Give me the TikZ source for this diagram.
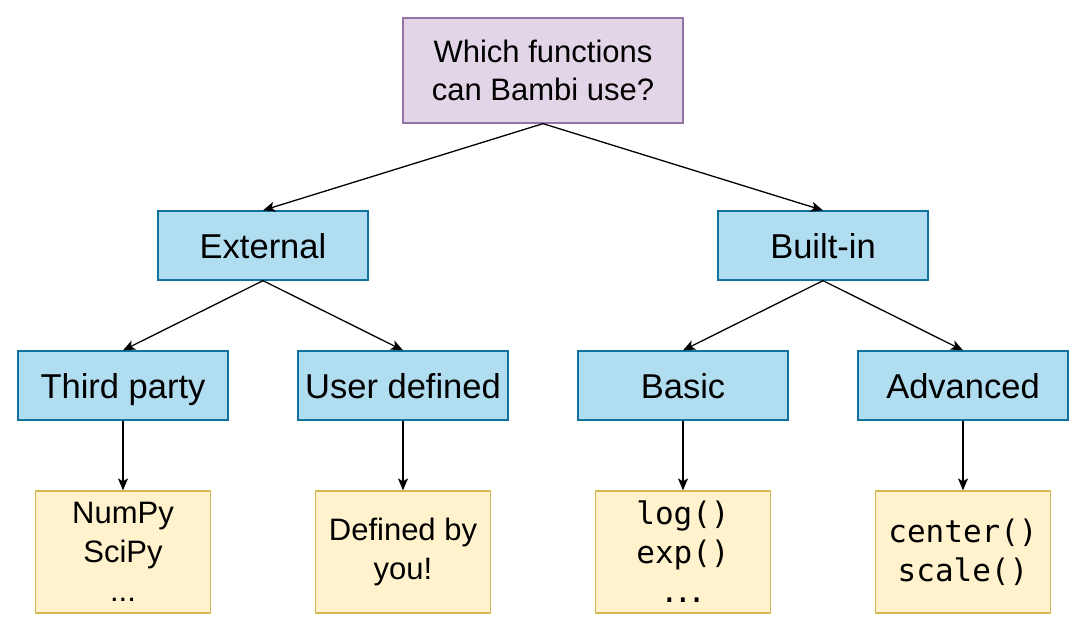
\documentclass[tikz,border=0pt]{standalone}
\usepackage{fontspec}
\setmainfont{Liberation Sans}
\setmonofont{DejaVu Sans Mono}
\usepackage{xcolor}
\definecolor{lilacFill}{HTML}{E1D5E7}
\definecolor{lilacLine}{HTML}{9673A6}
\definecolor{skyFill}{HTML}{B1DDF0}
\definecolor{skyLine}{HTML}{10739E}
\definecolor{sandFill}{HTML}{FFF2CC}
\definecolor{sandLine}{HTML}{D6B656}
\usepackage{tikz}
\usetikzlibrary{arrows.meta}
\tikzset{arrow/.style = {> = {Stealth[length = 12pt, width = 10pt, inset = 3pt]}, line width = 1.3pt}}
\usetikzlibrary{positioning}

\begin{document}
\begin{tikzpicture}[block/.style = {rectangle, draw = skyLine, line width = 1.3pt, fill = skyFill, minimum width = 210pt, minimum height = 69pt, text height = 30.5pt, text depth = 4pt, font = \fontsize{34.5}{40}\selectfont},
	question/.style = {rectangle, draw = lilacLine, line width = 1.3pt, fill = lilacFill, minimum width = 280pt, minimum height = 105pt, align = center, font = \fontsize{31}{38}\selectfont},
	leaf/.style = {rectangle, draw = sandLine, line width = 1.3pt, fill = sandFill, minimum width = 175pt, minimum height = 122pt, align = center, font = \fontsize{31}{39}\selectfont},
	on grid]
	\useasboundingbox (0, 0) rectangle (1087pt, -632pt);

	%% Level 0
	\node[question] (root) at (543pt, -70.5pt) {Which functions\\can Bambi use?};

	%% Level 1
	\node[block, below left = 175pt and 280pt of root] (external) {External};
	\node[block, below right = 175pt and 280pt of root] (builtin) {Built-in};

	%% Level 2
	\node[block, below left = 140pt and 140pt of external] (third) {Third party};
	\node[block, below right = 140pt and 140pt of external] (user) {User defined};
	\node[block, below left = 140pt and 140pt of builtin] (basic) {Basic};
	\node[block, below right = 140pt and 140pt of builtin] (advanced) {Advanced};

	%% Level 3
	\node[leaf, below = 166.5pt of third] (libs) {NumPy\\SciPy\\...};
	\node[leaf, below = 166.5pt of user] (own) {Defined by\\you!};
	\node[leaf, below = 166.5pt of basic] (mathfun) {\ttfamily log()\\\ttfamily exp()\\\ttfamily .\kern-5pt.\kern-5pt.};
	\node[leaf, below = 166.5pt of advanced] (transf) {\ttfamily center()\\\ttfamily scale()};

	%% Arrows...
	% ... 0 to 1
	\draw[->, arrow] (root.south) -- (external.north);
	\draw[->, arrow] (root.south) -- (builtin.north);

	% ... 1 to 2
	\draw[->, arrow] (external.south) -- (third.north);
	\draw[->, arrow] (external.south) -- (user.north);
	\draw[->, arrow] (builtin.south) -- (basic.north);
	\draw[->, arrow] (builtin.south) -- (advanced.north);

	% ... 2 to 3
	\draw[->, arrow] (third) -- (libs);
	\draw[->, arrow] (user) -- (own);
	\draw[->, arrow] (basic) -- (mathfun);
	\draw[->, arrow] (advanced) -- (transf);
\end{tikzpicture}
\end{document}
